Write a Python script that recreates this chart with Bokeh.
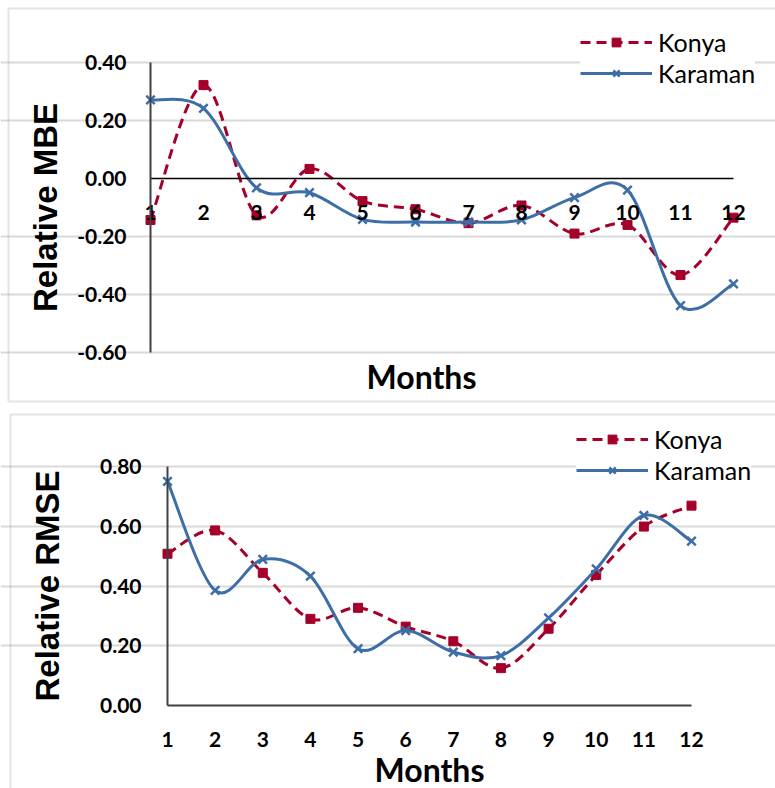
import numpy as np
from bokeh.plotting import figure
from bokeh.models import (Range1d, FixedTicker, NumeralTickFormatter, LinearAxis, Legend,
                          LegendItem, BoxAnnotation, Grid)
from bokeh.layouts import column
from bokeh.embed import file_html
from bokeh.resources import INLINE

# ---------------- data ----------------
months = list(range(1, 13))
mbe_konya = [-0.143, 0.322, -0.127, 0.033, -0.078, -0.106, -0.154, -0.093, -0.190, -0.160, -0.333, -0.135]
mbe_karaman = [0.271, 0.242, -0.032, -0.049, -0.141, -0.150, -0.150, -0.143, -0.066, -0.040, -0.438, -0.363]
rmse_konya = [0.508, 0.586, 0.444, 0.290, 0.327, 0.264, 0.215, 0.125, 0.257, 0.437, 0.599, 0.669]
rmse_karaman = [0.750, 0.385, 0.489, 0.433, 0.190, 0.251, 0.179, 0.167, 0.293, 0.457, 0.636, 0.550]
mbe_ticks = [-0.6, -0.4, -0.2, 0.0, 0.2, 0.4]
rmse_ticks = [0.0, 0.2, 0.4, 0.6, 0.8]
series_names = ["Konya", "Karaman"]

RED = "#A5002A"
BLUE = "#3E6EA7"
GRID = "#d9d9d9"
AXIS = "#404040"
TICK_FONT = "Lato"
TITLE_FONT = "Liberation Sans"
W = 775


def controls(x, y):
    """Bezier control points of a smoothed (Catmull-Rom style) line through the points."""
    x = np.asarray(x, float)
    y = np.asarray(y, float)
    n = len(x)
    xp = np.concatenate([[x[0]], x, [x[-1]]])
    yp = np.concatenate([[y[0]], y, [y[-1]]])
    cx0 = x[:-1] + (xp[2:n + 1] - xp[0:n - 1]) / 6
    cy0 = y[:-1] + (yp[2:n + 1] - yp[0:n - 1]) / 6
    cx1 = x[1:] - (xp[3:n + 2] - xp[1:n]) / 6
    cy1 = y[1:] - (yp[3:n + 2] - yp[1:n]) / 6
    return dict(x0=x[:-1], y0=y[:-1], x1=x[1:], y1=y[1:], cx0=cx0, cy0=cy0, cx1=cx1, cy1=cy1)


def base_fig(H, px_first, px_last, ylo, yhi, py_hi, py_lo):
    """Frame covers the whole canvas; ranges put month 1/12 and ylo/yhi on given pixels."""
    ux = (px_last - px_first) / (months[-1] - months[0])
    uy = (py_lo - py_hi) / (yhi - ylo)
    xr = Range1d(months[0] - px_first / ux, months[-1] + (W - px_last) / ux)
    yr = Range1d(ylo - (H - py_lo) / uy, yhi + py_hi / uy)
    p = figure(width=W, height=H, x_range=xr, y_range=yr,
               x_axis_type=None, y_axis_type=None,
               output_backend="svg", toolbar_location=None,
               min_border_left=0, min_border_right=0, min_border_top=0, min_border_bottom=0)
    p.outline_line_color = None
    p.background_fill_color = "white"
    p.border_fill_color = "white"
    return p


def style_tick_labels(ax):
    ax.major_label_text_font = TICK_FONT
    ax.major_label_text_font_size = "21px"
    ax.major_label_text_font_style = "bold"
    ax.major_label_text_color = "black"
    ax.major_tick_line_color = None
    ax.minor_tick_line_color = None


def style_title(ax, font, size):
    ax.axis_label_text_font = font
    ax.axis_label_text_font_size = size
    ax.axis_label_text_font_style = "bold"
    ax.axis_label_text_color = "black"


def add_series(p, konya, karaman):
    kc = controls(months, konya)
    kb = p.bezier(line_color=RED, line_width=3, line_dash="10 6", **kc)
    ks = p.scatter(months, konya, marker="square", size=9, fill_color=RED, line_color=RED)
    bc = controls(months, karaman)
    bb = p.bezier(line_color=BLUE, line_width=3, **bc)
    bs = p.scatter(months, karaman, marker="x", size=12, line_color=BLUE, line_width=2.5)
    return [LegendItem(label=series_names[0], renderers=[kb, ks]),
            LegendItem(label=series_names[1], renderers=[bb, bs])]


def add_legend(p, items, loc):
    lg = Legend(items=items, location=loc, orientation="vertical",
                label_text_font=TICK_FONT, label_text_font_size="25px",
                label_text_color="black", glyph_width=72, glyph_height=22,
                label_standoff=6, spacing=1, padding=5, margin=0,
                border_line_color=None, background_fill_color="white",
                background_fill_alpha=1.0)
    p.add_layout(lg)


def add_box(p, left, top, bottom):
    p.add_layout(BoxAnnotation(left=left, right=3000, top=top, bottom=bottom,
                               left_units="canvas", right_units="canvas",
                               top_units="canvas", bottom_units="canvas",
                               fill_color=None, line_color="#a6a6a6", line_width=2))


# ---------------- top panel: Relative MBE ----------------
H1 = 408
p1 = base_fig(H1, 150, 733, -0.6, 0.4, 62, 352)
add_box(p1, 8, 8, 401)
p1.add_layout(Grid(dimension=1, ticker=FixedTicker(ticks=[t for t in mbe_ticks if t != 0]),
                   bounds=(1, 12), grid_line_color=GRID, grid_line_width=2))

ya1 = LinearAxis(fixed_location=1, bounds=(-0.6, 0.4), ticker=FixedTicker(ticks=mbe_ticks),
                 formatter=NumeralTickFormatter(format="0.00"),
                 axis_label="Relative MBE", axis_line_color=AXIS, axis_line_width=2,
                 major_label_standoff=18, axis_label_standoff=10)
style_tick_labels(ya1)
style_title(ya1, TITLE_FONT, "33px")
p1.add_layout(ya1, "left")

xa1 = LinearAxis(fixed_location=0, bounds=(1, 12), ticker=FixedTicker(ticks=months),
                 axis_line_color="black", axis_line_width=1.5, major_label_standoff=20)
style_tick_labels(xa1)
p1.add_layout(xa1, "below")

# "Months" title of the top panel, under the plot area
ta1 = LinearAxis(fixed_location=-0.6, bounds=(1, 11.23), ticker=FixedTicker(ticks=[]),
                 axis_line_color=None, axis_label="Months", major_label_standoff=0,
                 axis_label_standoff=4)
style_tick_labels(ta1)
style_title(ta1, TICK_FONT, "32px")
p1.add_layout(ta1, "below")

items1 = add_series(p1, mbe_konya, mbe_karaman)
add_legend(p1, items1, (580, H1 - 88))

# ---------------- bottom panel: Relative RMSE ----------------
H2 = 380
p2 = base_fig(H2, 167, 691, 0.0, 0.8, 58, 297)
add_box(p2, 10, 6, 3000)
p2.add_layout(Grid(dimension=1, ticker=FixedTicker(ticks=[t for t in rmse_ticks if t != 0]),
                   bounds=(1, 12), grid_line_color=GRID, grid_line_width=2))

ya2 = LinearAxis(fixed_location=1, bounds=(0.0, 0.8), ticker=FixedTicker(ticks=rmse_ticks),
                 formatter=NumeralTickFormatter(format="0.00"),
                 axis_label="Relative RMSE", axis_line_color=AXIS, axis_line_width=2,
                 major_label_standoff=20, axis_label_standoff=31)
style_tick_labels(ya2)
style_title(ya2, TITLE_FONT, "33px")
p2.add_layout(ya2, "left")

xa2 = LinearAxis(fixed_location=0, bounds=(1, 12), ticker=FixedTicker(ticks=months),
                 axis_label="Months", axis_line_color=AXIS, axis_line_width=2,
                 major_label_standoff=20, axis_label_standoff=0)
style_tick_labels(xa2)
style_title(xa2, TICK_FONT, "32px")
p2.add_layout(xa2, "below")

items2 = add_series(p2, rmse_konya, rmse_karaman)
add_legend(p2, items2, (576, H2 - 77))

layout = column(p1, p2, spacing=0)
open("out.html", "w").write(file_html(layout, INLINE))
